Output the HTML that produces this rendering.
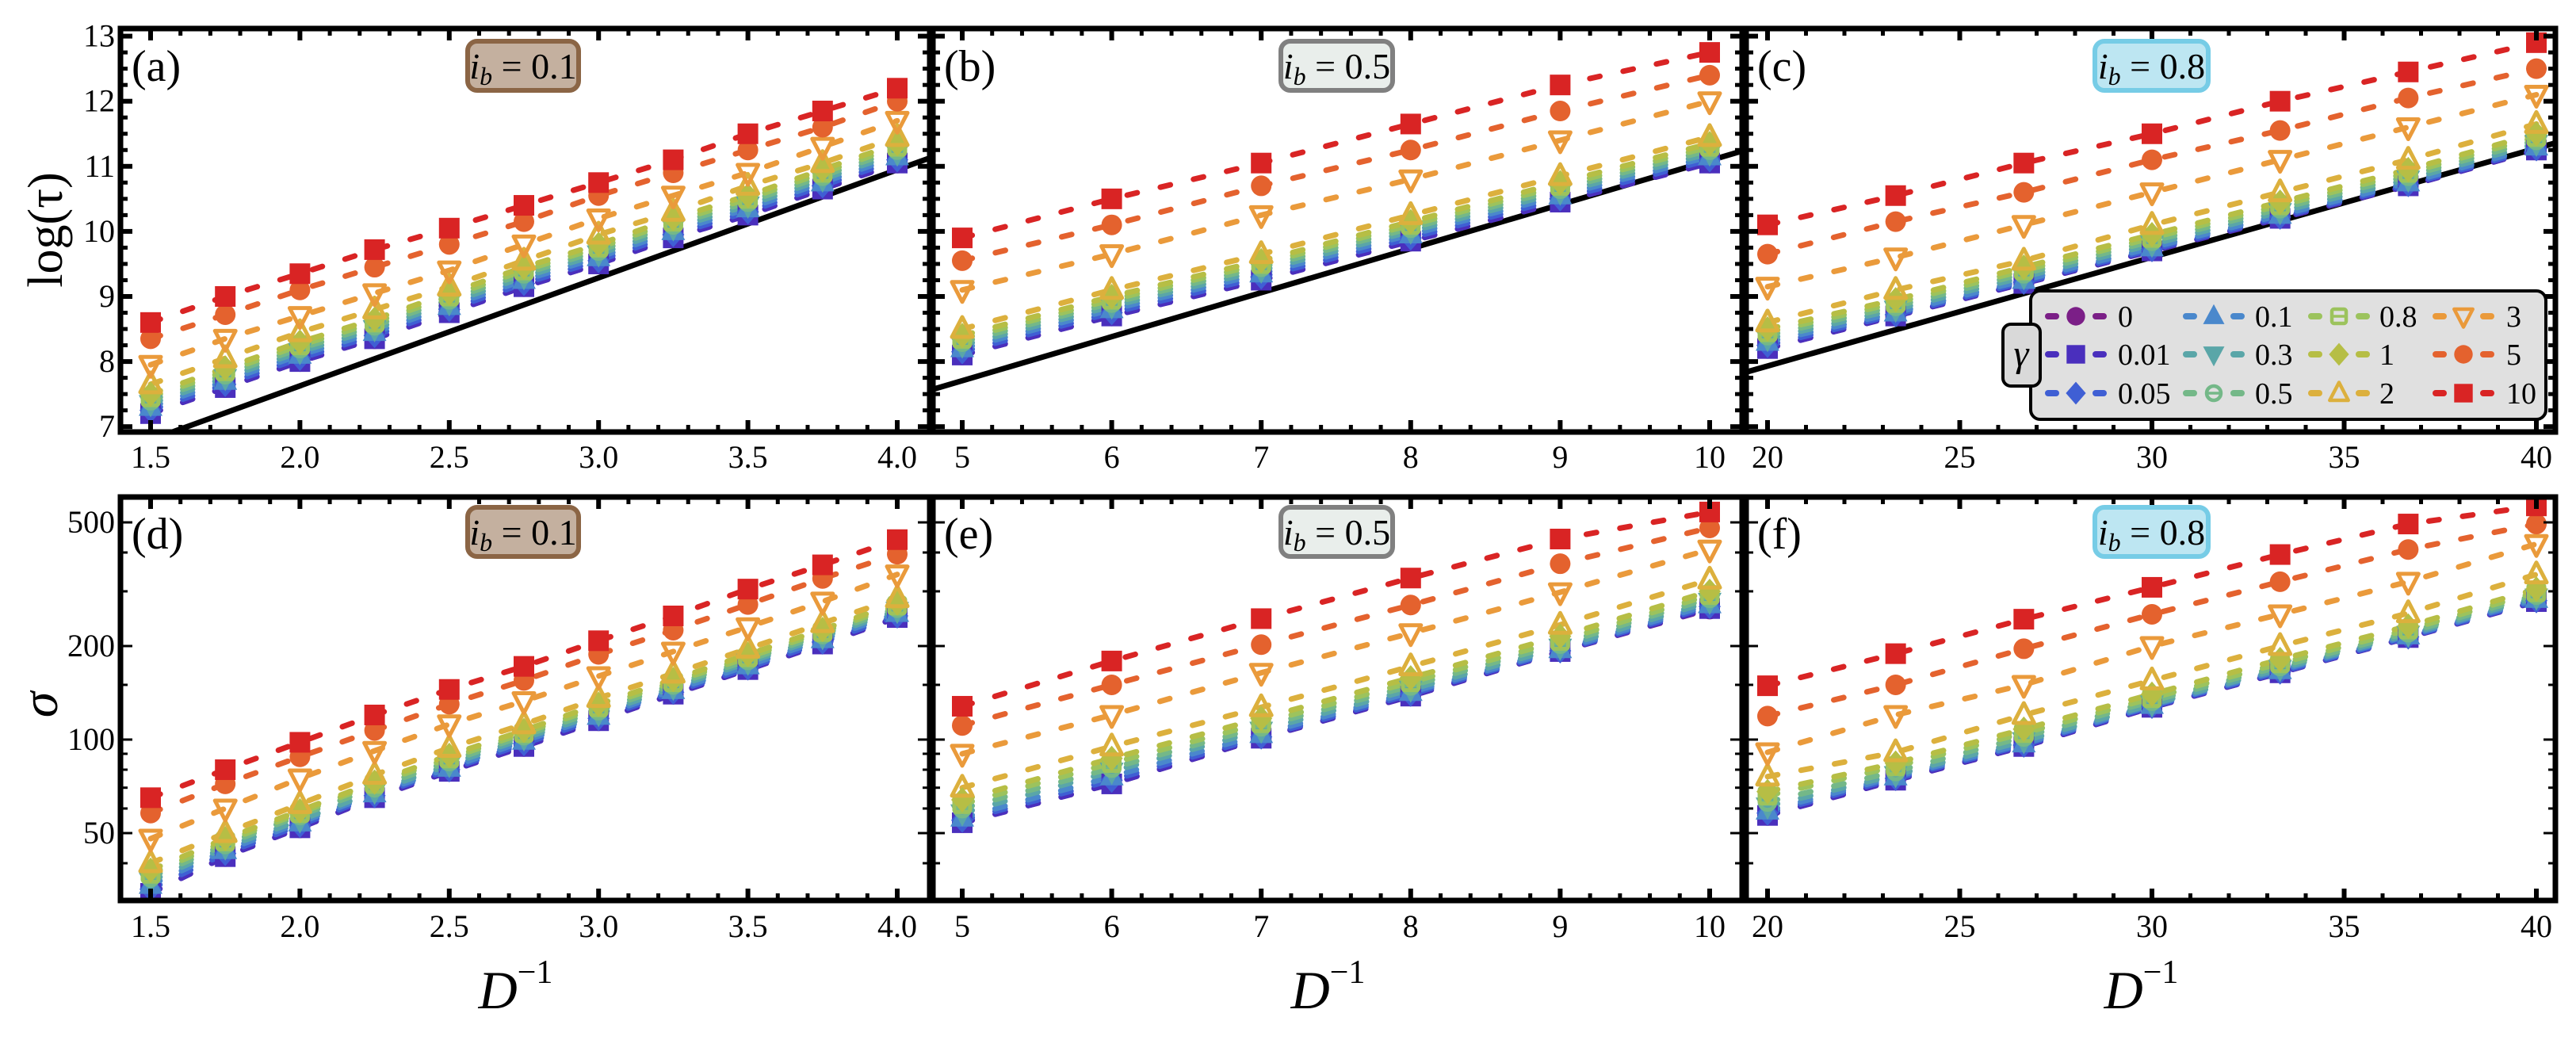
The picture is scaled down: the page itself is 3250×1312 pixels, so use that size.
<!DOCTYPE html>
<html><head><meta charset="utf-8"><style>
html,body{margin:0;padding:0;background:#fff;}
svg{display:block;font-family:"Liberation Serif",serif;}
</style></head><body>
<svg id="fig" width="3250" height="1312" viewBox="0 0 3250 1312" xmlns="http://www.w3.org/2000/svg"></svg>
<script>
// ---------- data ----------
const gammas = ["0","0.01","0.05","0.1","0.3","0.5","0.8","1","2","3","5","10"];
const colors = ["#7b1f87","#4a2fbd","#3f5fd4","#4a88cc","#5aa6a8","#74b888","#9cc35d","#b6be45","#dcb03d","#ea9a3b","#e4622e","#d92424"];
const markers = ["circle","square","diamond","tri","tridown","ocircle","osquare","diamond","otri","otridown","circle","square"];

const xA = [1.5,1.75,2.0,2.25,2.5,2.75,3.0,3.25,3.5,3.75,4.0];
const xB = [5,6,7,8,9,10];
const xC = [20,23.333,26.667,30,33.333,36.667,40];

const tauA = [
 [7.2,7.6,8.0,8.35,8.75,9.15,9.5,9.9,10.25,10.65,11.05],
 [7.2,7.6,8.0,8.35,8.75,9.15,9.5,9.9,10.25,10.65,11.05],
 [7.25,7.65,8.05,8.4,8.8,9.2,9.55,9.95,10.3,10.7,11.1],
 [7.3,7.7,8.1,8.45,8.85,9.25,9.6,10.0,10.35,10.75,11.15],
 [7.35,7.75,8.15,8.5,8.9,9.3,9.65,10.05,10.4,10.8,11.2],
 [7.4,7.8,8.2,8.55,8.95,9.35,9.7,10.1,10.45,10.85,11.25],
 [7.45,7.85,8.25,8.6,9.0,9.4,9.75,10.15,10.5,10.9,11.3],
 [7.5,7.9,8.3,8.65,9.05,9.45,9.8,10.2,10.55,10.95,11.35],
 [7.65,8.05,8.45,8.8,9.15,9.55,9.95,10.3,10.7,11.05,11.45],
 [7.95,8.35,8.7,9.05,9.4,9.8,10.2,10.55,10.9,11.3,11.7],
 [8.35,8.72,9.1,9.45,9.8,10.15,10.55,10.9,11.25,11.6,12.0],
 [8.6,9.0,9.35,9.72,10.05,10.4,10.75,11.1,11.5,11.85,12.2]
];
const tauB = [
 [8.1,8.7,9.25,9.85,10.45,11.05],
 [8.1,8.7,9.25,9.85,10.45,11.05],
 [8.15,8.75,9.3,9.9,10.5,11.1],
 [8.2,8.8,9.35,9.95,10.55,11.15],
 [8.25,8.85,9.4,10.0,10.6,11.2],
 [8.3,8.9,9.45,10.05,10.65,11.25],
 [8.35,8.95,9.5,10.1,10.7,11.3],
 [8.4,9.0,9.55,10.15,10.75,11.35],
 [8.5,9.1,9.65,10.25,10.85,11.45],
 [9.1,9.65,10.25,10.8,11.4,12.0],
 [9.55,10.1,10.7,11.25,11.85,12.4],
 [9.9,10.5,11.05,11.65,12.25,12.75]
];
const tauC = [
 [8.2,8.7,9.2,9.7,10.2,10.7,11.25],
 [8.2,8.7,9.2,9.7,10.2,10.7,11.25],
 [8.25,8.72,9.22,9.72,10.22,10.72,11.27],
 [8.3,8.75,9.25,9.75,10.25,10.75,11.3],
 [8.35,8.8,9.3,9.8,10.3,10.8,11.35],
 [8.4,8.85,9.35,9.85,10.35,10.85,11.4],
 [8.45,8.9,9.4,9.9,10.4,10.9,11.45],
 [8.5,8.95,9.45,9.95,10.45,10.95,11.5],
 [8.6,9.1,9.55,10.1,10.6,11.1,11.65],
 [9.15,9.6,10.1,10.6,11.1,11.6,12.1],
 [9.65,10.15,10.6,11.1,11.55,12.05,12.5],
 [10.1,10.55,11.05,11.5,12.0,12.45,12.9]
];
const sigD = [
 [32,42,52,65,79,95,115,140,168,203,247],
 [32,42,52,65,79,95,115,140,168,203,247],
 [33,43,53,66,80,97,117,142,170,206,250],
 [34,44,54,67,81,99,119,144,173,210,255],
 [35,45,55,68,83,101,121,147,177,214,260],
 [36,46,57,70,85,103,124,150,180,218,265],
 [37,47,58,72,87,105,127,153,184,222,270],
 [38,48,59,73,89,107,130,156,188,226,275],
 [40,50,62,77,94,112,136,163,196,237,285],
 [48,60,75,92,112,133,160,192,230,278,340],
 [58,72,88,107,130,155,188,225,272,330,395],
 [65,80,98,120,145,172,208,250,305,365,440]
];
const sigE = [
 [54,72,101,138,192,263],
 [54,72,101,138,192,264],
 [55,74,102,140,193,268],
 [56,76,104,142,195,272],
 [58,79,107,145,198,278],
 [60,81,110,149,203,285],
 [62,84,113,153,208,292],
 [64,87,117,158,215,300],
 [70,95,127,172,234,327],
 [90,120,164,220,298,409],
 [111,150,202,271,368,480],
 [128,179,245,331,442,540]
];
const sigF = [
 [57,74,95,127,164,213,278],
 [57,74,95,127,164,213,278],
 [58,75,96,128,165,214,280],
 [59,76,97,129,167,216,283],
 [61,77,99,130,169,218,287],
 [63,79,102,133,172,221,292],
 [66,82,105,136,176,226,298],
 [68,84,108,140,181,232,305],
 [76,91,120,155,200,255,340],
 [91,120,150,200,253,322,426],
 [119,150,196,253,322,409,494],
 [149,189,244,309,394,494,565]
];
const refLineAX = [1.4,4.11], refLineAY = [6.63,11.13];
const refLineBX = [4.8,10.21], refLineBY = [7.57,11.23];
const refLineCX = [19.1,40.5], refLineCY = [7.78,11.36];

const tickA = [1.5,2.0,2.5,3.0,3.5,4.0], tickALabels = ["1.5","2.0","2.5","3.0","3.5","4.0"];
const tickB = [5,6,7,8,9,10], tickBLabels = ["5","6","7","8","9","10"];
const tickC = [20,25,30,35,40], tickCLabels = ["20","25","30","35","40"];
const tauTicks = [7,8,9,10,11,12,13];
const sigTicks = [50,100,200,500];
const sigMinor = [40,60,70,80,90,150,300,400];

// ---------- helpers ----------
const NS = "http://www.w3.org/2000/svg";
const svg = document.getElementById("fig");
function mk(tag, attrs, parent){
  const e = document.createElementNS(NS, tag);
  for (const k in attrs) e.setAttribute(k, attrs[k]);
  (parent||svg).appendChild(e);
  return e;
}
function lin(d0,d1,r0,r1){ return v => r0 + (v-d0)*(r1-r0)/(d1-d0); }
const yTau = lin(13,7,45.6,538.2);
const ySig = v => 659 - 392*Math.log10(v/500);

const frames = [
 {x0:152,x1:1173}, {x0:1177,x1:2198}, {x0:2203,x1:3224}
];
const rows = [{y0:36,y1:545},{y0:627,y1:1136}];
const xmaps = [lin(1.5,4.0,190,1132), lin(5,10,1214,2157), lin(20,40,2230,3200)];
const xs = [xA,xB,xC];
const majors = [tickA,tickB,tickC], majorLabels=[tickALabels,tickBLabels,tickCLabels];
const minorStep = [0.1,0.2,1];
const minorStart = [1.4,4.8,19];
const tauData = [tauA,tauB,tauC], sigData=[sigD,sigE,sigF];
const refX=[refLineAX,refLineBX,refLineCX], refY=[refLineAY,refLineBY,refLineCY];
const letters = [["(a)","(b)","(c)"],["(d)","(e)","(f)"]];
const boxes = [
 {x:587,w:146,fill:"#c4b09f",stroke:"#8b6545",txt:"0.1"},
 {x:1613,w:147,fill:"#e9eeeb",stroke:"#808080",txt:"0.5"},
 {x:2640,w:149,fill:"#bde6f2",stroke:"#76cce6",txt:"0.8"}
];

function drawMarker(g, type, cx, cy, color, s){
  s = s||1;
  let e;
  const r=13*s, h=13*s;
  if (type==="circle") e = mk("circle",{cx:cx,cy:cy,r:r,fill:color},g);
  else if (type==="square") e = mk("rect",{x:cx-h,y:cy-h,width:2*h,height:2*h,fill:color},g);
  else if (type==="diamond") e = mk("polygon",{points:`${cx},${cy-16*s} ${cx+14*s},${cy} ${cx},${cy+16*s} ${cx-14*s},${cy}`,fill:color},g);
  else if (type==="tri") e = mk("polygon",{points:`${cx},${cy-17*s} ${cx+15*s},${cy+11*s} ${cx-15*s},${cy+11*s}`,fill:color},g);
  else if (type==="tridown") e = mk("polygon",{points:`${cx},${cy+17*s} ${cx+15*s},${cy-11*s} ${cx-15*s},${cy-11*s}`,fill:color},g);
  else if (type==="otri") e = mk("polygon",{points:`${cx},${cy-15*s} ${cx+13*s},${cy+10*s} ${cx-13*s},${cy+10*s}`,fill:"none",stroke:color,"stroke-width":5*s,"stroke-linejoin":"round"},g);
  else if (type==="otridown") e = mk("polygon",{points:`${cx},${cy+15*s} ${cx+13*s},${cy-10*s} ${cx-13*s},${cy-10*s}`,fill:"none",stroke:color,"stroke-width":5*s,"stroke-linejoin":"round"},g);
  else if (type==="ocircle"){ e = mk("g",{},g);
    mk("circle",{cx:cx,cy:cy,r:10*s,fill:"none",stroke:color,"stroke-width":5*s},e);
    mk("line",{x1:cx-10*s,y1:cy,x2:cx+10*s,y2:cy,stroke:color,"stroke-width":4*s},e); }
  else if (type==="osquare"){ e = mk("g",{},g);
    mk("rect",{x:cx-10*s,y:cy-10*s,width:20*s,height:20*s,rx:3*s,fill:"none",stroke:color,"stroke-width":5*s},e);
    mk("line",{x1:cx-10*s,y1:cy,x2:cx+10*s,y2:cy,stroke:color,"stroke-width":4*s},e); }
  return e;
}

// ---------- panels ----------
for (let r=0;r<2;r++){
 for (let p=0;p<3;p++){
  const F=frames[p], R=rows[r], xm=xmaps[p];
  const ym = r===0? yTau : ySig;
  const data = r===0? tauData[p] : sigData[p];
  const g = mk("g",{});
  
  
  const cid = "clip"+r+p;
  const cp = mk("clipPath",{id:cid},g);
  mk("rect",{x:F.x0,y:R.y0,width:F.x1-F.x0,height:R.y1-R.y0},cp);
  const plot = mk("g",{"clip-path":`url(#${cid})`},g);
  
  
  if (r===0){
    const rl = mk("line",{x1:xm(refX[p][0]),y1:ym(refY[p][0]),x2:xm(refX[p][1]),y2:ym(refY[p][1]),stroke:"#000","stroke-width":7},plot);
    
    
  }
  for (let k=0;k<12;k++){
    const pts = xs[p].map((x,i)=>xm(x)+","+ym(data[k][i])).join(" ");
    const pl = mk("polyline",{points:pts,fill:"none",stroke:colors[k],"stroke-width":7,"stroke-dasharray":"13 30","stroke-linecap":"round"},plot);
    
    
  }
  for (let k=0;k<12;k++){
    const mg = mk("g",{},plot);
    
    
    xs[p].forEach((x,i)=>{
      const m = drawMarker(mg, markers[k], xm(x), ym(data[k][i]), colors[k]);
      
      
    });
  }
  // ticks
  const tg = mk("g",{stroke:"#000"},g);
  
  
  const maj = majors[p];
  const st = minorStep[p];
  for (let n=0; n<=60; n++){
    const v = minorStart[p] + n*st;
    const X = xm(v); if (X<F.x0+4||X>F.x1-4) continue;
    const isMaj = maj.some(m=>Math.abs(m-v)<1e-6);
    const L = isMaj?15:9, W=isMaj?6:5;
    mk("line",{x1:X,y1:R.y1,x2:X,y2:R.y1-L,"stroke-width":W},tg);
    mk("line",{x1:X,y1:R.y0,x2:X,y2:R.y0+L,"stroke-width":W},tg);
  }
  if (r===0){
    for (let v=6.75; v<=13.25; v+=0.25){
      const Y=ym(v); if (Y<R.y0+4||Y>R.y1-4) continue;
      const isMaj = Math.abs(v-Math.round(v))<1e-6; const L=isMaj?15:9, W=isMaj?6:5;
      mk("line",{x1:F.x0,y1:Y,x2:F.x0+L,y2:Y,"stroke-width":W},tg);
      mk("line",{x1:F.x1,y1:Y,x2:F.x1-L,y2:Y,"stroke-width":W},tg);
    }
  } else {
    sigTicks.concat(sigMinor).forEach(v=>{
      const Y=ym(v); if (Y<R.y0+4||Y>R.y1-4) return;
      const isMaj = sigTicks.includes(v); const L=isMaj?15:9;
      mk("line",{x1:F.x0,y1:Y,x2:F.x0+L,y2:Y,"stroke-width":3},tg);
      mk("line",{x1:F.x1,y1:Y,x2:F.x1-L,y2:Y,"stroke-width":3},tg);
    });
  }
  const fr = mk("rect",{x:F.x0,y:R.y0,width:F.x1-F.x0,height:R.y1-R.y0,fill:"none",stroke:"#000","stroke-width":7},g);
  
  
  maj.forEach((v,i)=>{
    const t = mk("text",{x:xm(v),y:R.y1+(r===0?45:46),"font-size":40,"text-anchor":"middle"},g);
    t.textContent = majorLabels[p][i];
    
    
  });
  if (p===0){
    const ticks = r===0? tauTicks : sigTicks;
    ticks.forEach(v=>{
      const t = mk("text",{x:145,y:ym(v)+13,"font-size":40,"text-anchor":"end"},g);
      t.textContent = String(v);
      
      
    });
  }
  const lt = mk("text",{x:F.x0+14,y:r===0?102:692,"font-size":56},g);
  lt.textContent = letters[r][p];
  
  
  const B = boxes[p];
  const by = r===0? 49 : 637;
  const bg = mk("g",{},g);
  
  
  mk("rect",{x:B.x+3,y:by+3,width:B.w-6,height:62,rx:12,fill:B.fill,stroke:B.stroke,"stroke-width":6},bg);
  const bt = mk("text",{x:B.x+B.w/2,y:by+50,"font-size":46,"text-anchor":"middle"},bg);
  const i1 = mk("tspan",{"font-style":"italic"},bt); i1.textContent="i";
  const i2 = mk("tspan",{"font-style":"italic","font-size":32,dy:8},bt); i2.textContent="b";
  const i3 = mk("tspan",{dy:-8},bt); i3.textContent=" = "+B.txt;
  if (r===1){
    const cx=(F.x0+F.x1)/2;
    const xt = mk("text",{x:cx-12,y:1272,"font-size":68,"text-anchor":"middle"},g);
    const d1 = mk("tspan",{"font-style":"italic"},xt); d1.textContent="D";
    const d2 = mk("tspan",{"font-size":42,dy:-32}, xt); d2.textContent="\u22121";
    
    
  }
 }
}

const yt1 = mk("text",{x:0,y:0,"font-size":62,"text-anchor":"middle",transform:"translate(78,290) rotate(-90)"});
yt1.textContent = "log(\u03c4)";


const yt2 = mk("text",{x:0,y:0,"font-size":66,"font-style":"italic","text-anchor":"middle",transform:"translate(72,889) rotate(-90)"});
yt2.textContent = "\u03c3";



// ---------- legend ----------
const lg = mk("g",{});


mk("rect",{x:2562,y:367,width:650,height:162,rx:12,fill:"#e0e0e0",stroke:"#000","stroke-width":4},lg);
const gb = mk("rect",{x:2527,y:409,width:47,height:78,rx:10,fill:"#d9d9d9",stroke:"#000","stroke-width":4},lg);


const gt = mk("text",{x:2550,y:462,"font-size":48,"font-style":"italic","text-anchor":"middle"},lg);
gt.textContent = "\u03b3";


const colX = [2619,2793,2951,3108], labX=[2672,2845,3002,3162], rowY=[399,447,496];
for (let k=0;k<12;k++){
  const c = Math.floor(k/3), rr = k%3;
  const eg = mk("g",{},lg);
  
  
  const cx=colX[c], cy=rowY[rr];
  mk("line",{x1:cx-35,y1:cy,x2:cx-25,y2:cy,stroke:colors[k],"stroke-width":8,"stroke-linecap":"round"},eg);
  mk("line",{x1:cx+25,y1:cy,x2:cx+35,y2:cy,stroke:colors[k],"stroke-width":8,"stroke-linecap":"round"},eg);
  drawMarker(eg, markers[k], cx, cy, colors[k], 0.9);
  const t = mk("text",{x:labX[c],y:cy+13,"font-size":38},eg);
  t.textContent = gammas[k];
}
</script>
</body></html>
